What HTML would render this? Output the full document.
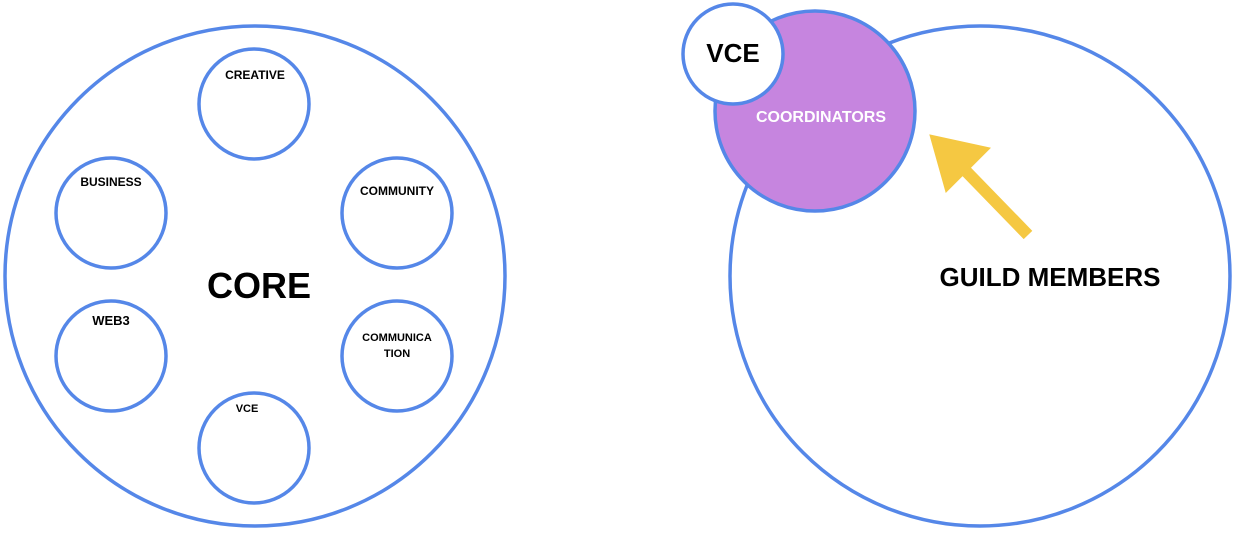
<!DOCTYPE html><html><head><style>body{margin:0;background:#fff}</style></head><body>
<svg width="1234" height="530" xmlns="http://www.w3.org/2000/svg" font-family="'Liberation Sans', sans-serif" font-weight="bold">
<g fill="none" stroke="#5587e8" stroke-width="3.5">
<circle cx="255" cy="276" r="250" fill="#fff"/>
<circle cx="254" cy="104" r="55"/>
<circle cx="111" cy="213" r="55"/>
<circle cx="397" cy="213" r="55"/>
<circle cx="111" cy="356" r="55"/>
<circle cx="397" cy="356" r="55"/>
<circle cx="254" cy="448" r="55"/>
<circle cx="980" cy="276" r="250" fill="#fff"/>
<circle cx="815" cy="111" r="100" fill="#c685df"/>
<circle cx="733" cy="54" r="50" fill="#fff"/>
</g>
<g fill="#f5c842" stroke="#f5c842">
<polygon points="930,135 990,148 946,192"/>
<line x1="960" y1="165" x2="1028" y2="235" stroke-width="12"/>
</g>
<g fill="#000" text-anchor="middle">
<text x="255" y="79" font-size="12">CREATIVE</text>
<text x="111" y="186" font-size="12">BUSINESS</text>
<text x="397" y="195" font-size="12">COMMUNITY</text>
<text x="111" y="325" font-size="13">WEB3</text>
<text x="397" y="341" font-size="11">COMMUNICA</text>
<text x="397" y="357" font-size="11">TION</text>
<text x="247" y="412" font-size="11">VCE</text>
<text x="259" y="298" font-size="36">CORE</text>
<text x="733" y="62" font-size="26">VCE</text>
<text x="1050" y="286" font-size="26">GUILD MEMBERS</text>
<text x="821" y="122" font-size="16" fill="#fff">COORDINATORS</text>
</g>
</svg>
</body></html>
